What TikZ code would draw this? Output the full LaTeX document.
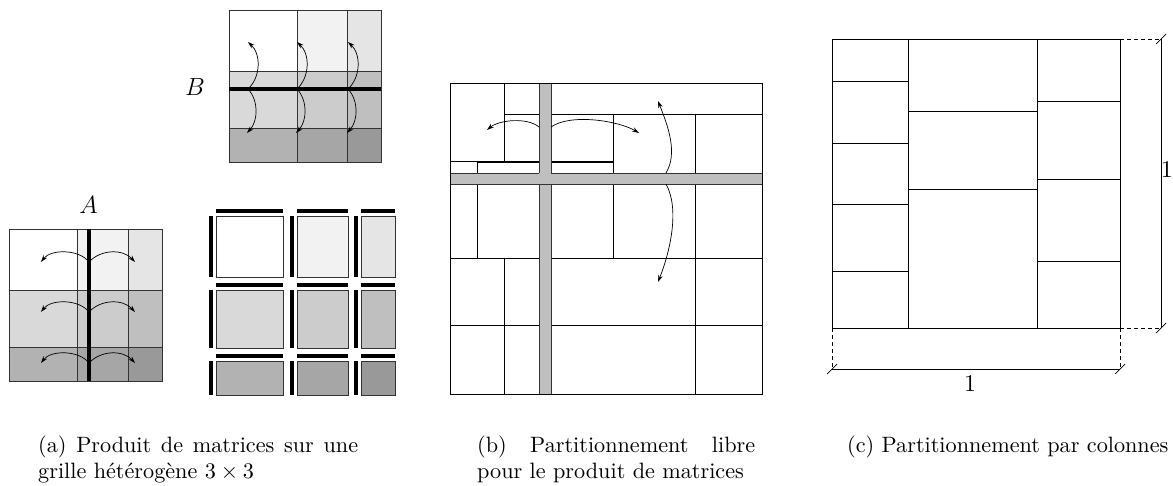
\documentclass[tikz,border=0pt]{standalone}
\usepackage{fontspec}
\usepackage{graphicx}
\setmainfont{lmroman10-regular}[Extension=.otf,ItalicFont=lmroman10-italic]
\usetikzlibrary{arrows.meta}
\begin{document}
\begin{tikzpicture}[x=1pt,y=-1pt,line cap=butt,
  cell/.style={draw=black!80,line width=0.9pt},
  part/.style={draw=black,line width=0.9pt},
  band/.style={fill=black!25,draw=black!80,line width=0.8pt},
  bar/.style={line width=4pt,draw=black},
  swap/.style={-{Stealth[length=7pt,width=4.5pt]},line width=0.7pt},
  dim/.style={line width=0.7pt},
  guide/.style={line width=0.7pt,dash pattern=on 4pt off 3pt},
  tick/.style={line width=0.7pt},
  lbl/.style={inner sep=0pt,font=\fontsize{24}{28}\selectfont},
  capt/.style={inner sep=0pt,anchor=base west,font=\fontsize{22.2}{26.6}\selectfont}]
\useasboundingbox (0,0) rectangle (1173,486);

% ---------- (a) matrix A : 3x3 heterogeneous blocks ----------
\foreach \ya/\yb/\i in {229/290/0,290/347/1,347/381/2}
  \foreach \xa/\xb/\j in {9/77/0,77/128/1,128/162/2}{
    \pgfmathtruncatemacro\k{5*(3*\i+\j)}
    \filldraw[cell,fill=black!\k] (\xa,\ya) rectangle (\xb,\yb);
  }
\draw[bar] (89,229) -- (89,381);
\node[lbl] (labA) at (88.5,205) {$A$};
\foreach \y [count=\n] in {262,312,363}{
  \coordinate (A\n) at (89,\y);
  \coordinate (A\n l) at (41,\y);
  \coordinate (A\n r) at (135,\y);
  \draw[swap] (A\n) .. controls +(-10,-13) and +(10,-13) .. (A\n l);
  \draw[swap] (A\n) .. controls +(12,-13) and +(-12,-13) .. (A\n r);
}

% ---------- (a) matrix B ----------
\foreach \ya/\yb/\i in {10/71/0,71/128/1,128/162/2}
  \foreach \xa/\xb/\j in {229/297/0,297/347/1,347/381/2}{
    \pgfmathtruncatemacro\k{5*(3*\i+\j)}
    \filldraw[cell,fill=black!\k] (\xa,\ya) rectangle (\xb,\yb);
  }
\draw[bar] (229,89) -- (381,89);
\node[lbl] (labB) at (195,87.5) {$B$};
\foreach \x [count=\n] in {248,297,348}{
  \coordinate (B\n) at (\x,89);
  \coordinate (B\n t) at (\x,42);
  \coordinate (B\n b) at (\x-1,133);
  \draw[swap] (B\n) .. controls +(13,-12) and +(13,12) .. (B\n t);
  \draw[swap] (B\n) .. controls +(11,12) and +(11,-12) .. (B\n b);
}

% ---------- (a) separated blocks with their borders ----------
\foreach \ya/\yb/\i in {216/277/0,290/348/1,361/395/2}
  \foreach \xa/\xb/\j in {216/283/0,297/348/1,361/395/2}{
    \pgfmathtruncatemacro\k{5*(3*\i+\j)}
    \filldraw[cell,fill=black!\k] (\xa,\ya) rectangle (\xb,\yb);
    \draw[bar] (\xa,\ya-5) -- (\xb,\ya-5);
    \draw[bar] (\xa-5.5,\ya) -- (\xa-5.5,\yb);
  }

% ---------- (b) free partitioning ----------
\draw[part] (504,83) -- (504,161);
\draw[part] (504,114) -- (762,114);
\draw[part] (450,161) -- (613,161);
\draw[part] (613,114) -- (613,258);
\draw[part] (695,114) -- (695,394);
\draw[part] (477,258) -- (477,162) -- (613,162);
\draw[part] (450,258) -- (762,258);
\draw[part] (504,258) -- (504,394);
\draw[part] (450,325) -- (762,325);
\filldraw[band] (539,83) rectangle (551,394);
\filldraw[band] (450,173) rectangle (762,184);
\fill[black!25] (539.4,173.4) rectangle (550.6,183.6);
\draw[part] (450,83) rectangle (762,394);
\coordinate (Ph) at (539,127);
\coordinate (Ph2) at (551,127);
\coordinate (Phl) at (487,130);
\coordinate (Phr) at (639,133);
\draw[swap] (Ph) .. controls +(-12,-10) and +(12,-10) .. (Phl);
\draw[swap] (Ph2) .. controls +(20,-14) and +(-20,-12) .. (Phr);
\coordinate (Pv) at (666,173);
\coordinate (Pv2) at (666,184);
\coordinate (Pvt) at (658,101);
\coordinate (Pvb) at (658,282);
\draw[swap] (Pv) .. controls +(12,-20) and +(10,25) .. (Pvt);
\draw[swap] (Pv2) .. controls +(14,25) and +(12,-30) .. (Pvb);

% ---------- (c) column partitioning ----------
\draw[part] (832,39) rectangle (1120,328);
\draw[part] (908,39) -- (908,328);
\draw[part] (1037,39) -- (1037,328);
\foreach \y in {81,143,204,271} \draw[part] (832,\y) -- (908,\y);
\foreach \y in {111,189} \draw[part] (908,\y) -- (1037,\y);
\foreach \y in {101,179,261} \draw[part] (1037,\y) -- (1120,\y);
% dimension lines
\coordinate (dT) at (1161,39);
\coordinate (dB) at (1161,328);
\coordinate (dL) at (832,369);
\coordinate (dR) at (1120,369);
\draw[guide] (1120,39) -- (dT);
\draw[guide] (1120,328) -- (dB);
\draw[guide] (832,328) -- (dL);
\draw[guide] (1120,328) -- (dR);
\draw[dim] (dT) -- (dB);
\draw[dim] (dL) -- (dR);
\foreach \p in {dT,dB,dL,dR}
  \draw[tick] ([shift={(-5,5)}]\p) -- ([shift={(5,-5)}]\p);
\node[lbl,anchor=base east] (oneV) at (1173,178) {1};
\node[lbl,anchor=base] (oneH) at (970,391) {1};

% ---------- captions ----------
\node[capt] (capA) at (38,452) {\parbox[t]{320pt}{(a) Produit de matrices sur une\linebreak grille hétérogène 3\hspace{0.22em}×\hspace{0.22em}3}};
\node[capt] (capB) at (477,452) {\parbox[t]{278pt}{(b) Partitionnement libre\linebreak pour le produit de matrices}};
\node[capt] (capC) at (847,452) {(c) Partitionnement par colonnes};
\end{tikzpicture}
\end{document}
